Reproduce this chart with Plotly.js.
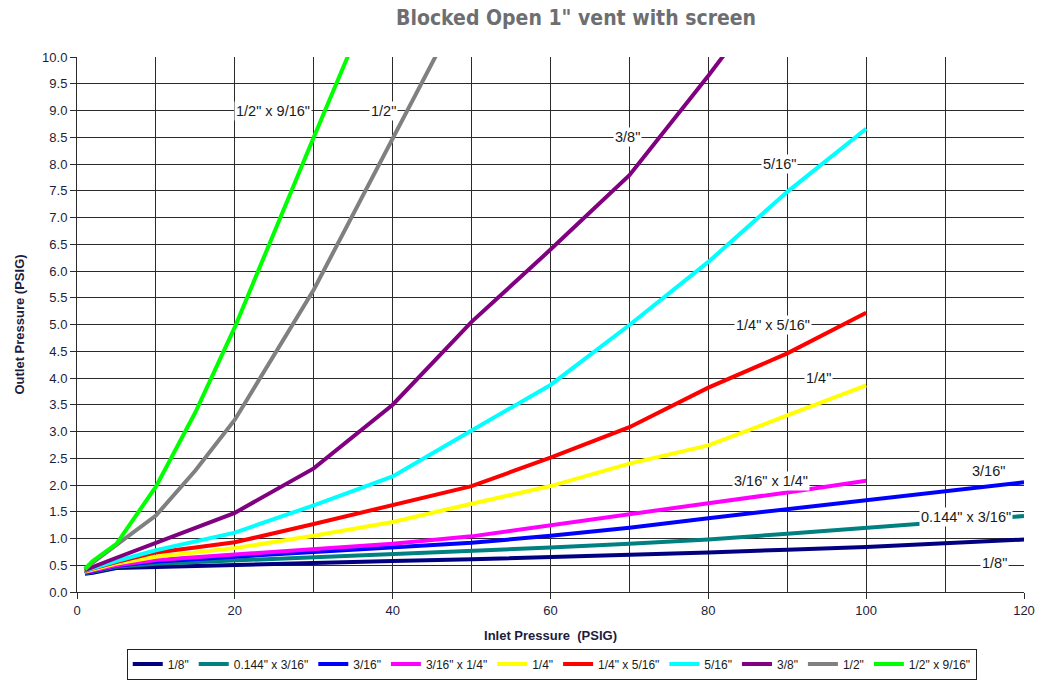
<!DOCTYPE html>
<html>
<head>
<meta charset="utf-8">
<script src="https://cdn.plot.ly/plotly-3.0.1.min.js"></script>
<style>html,body{margin:0;padding:0;background:#fff;}#chart{width:1057px;height:690px;}</style>
</head>
<body>
<div id="chart"></div>
<script>
// Inlet pressure sample points (PSIG)
const inlet120 = [1, 2, 5, 10, 15, 20, 30, 40, 50, 60, 70, 80, 90, 100, 120];
const inlet100 = [1, 2, 5, 10, 15, 20, 30, 40, 50, 60, 70, 80, 90, 100];
const inlet90  = [1, 2, 5, 10, 15, 20, 30, 40, 50, 60, 70, 80, 90];
const inlet50  = [1, 2, 5, 10, 15, 20, 30, 40, 50];
const inlet40  = [1, 2, 5, 10, 15, 20, 30, 40];

// Outlet pressure (PSIG) per orifice
const s_1_8      = [0.34, 0.36, 0.45, 0.47, 0.49, 0.51, 0.54, 0.58, 0.61, 0.65, 0.69, 0.74, 0.79, 0.84, 0.98];
const s_0144_316 = [0.35, 0.38, 0.47, 0.53, 0.56, 0.59, 0.64, 0.70, 0.77, 0.83, 0.90, 0.98, 1.09, 1.20, 1.42];
const s_3_16     = [0.36, 0.39, 0.49, 0.57, 0.61, 0.66, 0.75, 0.84, 0.92, 1.05, 1.20, 1.38, 1.55, 1.72, 2.05];
const s_316_14   = [0.37, 0.40, 0.50, 0.60, 0.65, 0.70, 0.80, 0.90, 1.04, 1.25, 1.45, 1.66, 1.86, 2.08];
const s_1_4      = [0.38, 0.42, 0.53, 0.66, 0.74, 0.82, 1.05, 1.31, 1.65, 1.98, 2.40, 2.74, 3.30, 3.86];
const s_14_516   = [0.39, 0.44, 0.56, 0.74, 0.83, 0.93, 1.27, 1.63, 1.98, 2.51, 3.08, 3.82, 4.46, 5.22];
const s_5_16     = [0.40, 0.45, 0.58, 0.78, 0.95, 1.11, 1.62, 2.16, 3.02, 3.87, 4.99, 6.17, 7.48, 8.66];
const s_3_8      = [0.41, 0.47, 0.64, 0.92, 1.20, 1.48, 2.31, 3.50, 5.05, 6.40, 7.79, 9.65, 11.6];
const s_1_2      = [0.42, 0.55, 0.88, 1.43, 2.27, 3.22, 5.65, 8.47, 11.3];
const s_12_916   = [0.43, 0.58, 0.90, 1.97, 3.36, 4.95, 8.50, 12.0];

const names  = ['1/8"', '0.144" x 3/16"', '3/16"', '3/16" x 1/4"', '1/4"', '1/4" x 5/16"', '5/16"', '3/8"', '1/2"', '1/2" x 9/16"'];
const colors = ['#000080', '#008080', '#0000ff', '#ff00ff', '#ffff00', '#ff0000', '#00ffff', '#800080', '#808080', '#00ff00'];
const xs = [inlet120, inlet120, inlet120, inlet100, inlet100, inlet100, inlet100, inlet90, inlet50, inlet40];
const ys = [s_1_8, s_0144_316, s_3_16, s_316_14, s_1_4, s_14_516, s_5_16, s_3_8, s_1_2, s_12_916];

// Inline labels
const labelText = ['1/2" x 9/16"', '1/2"', '3/8"', '5/16"', '1/4" x 5/16"', '1/4"', '3/16" x 1/4"', '3/16"', '0.144" x 3/16"', '1/8"'];
const labelX    = [24.8, 38.8, 69.8, 89.0, 88.2, 94.0, 88.0, 115.5, 112.6, 116.3];
const labelY    = [9.0, 9.0, 8.5, 8.0, 5.0, 4.0, 2.08, 2.26, 1.40, 0.54];

const traces = names.map((n, i) => ({
  x: xs[i], y: ys[i], name: n, type: 'scatter', mode: 'lines',
  line: {color: colors[i], width: 4}, cliponaxis: true
}));

const gridC = '#2a2a2a';
const tickFont = {family: 'Arial, Liberation Sans, sans-serif', size: 13, color: '#1c1c3c'};

const annotations = labelText.map((t, i) => ({
  x: labelX[i], y: labelY[i], xref: 'x', yref: 'y', text: t, showarrow: false,
  bgcolor: '#ffffff', borderpad: 1,
  font: {family: 'Arial, Liberation Sans, sans-serif', size: 14.5, color: '#1a1a1a'}
}));

const layout = {
  width: 1057, height: 690,
  paper_bgcolor: '#ffffff', plot_bgcolor: '#ffffff',
  margin: {l: 77, r: 33, t: 57, b: 98},
  title: {
    text: '<b>Blocked Open 1" vent with screen</b>',
    font: {family: 'Liberation Sans Narrow, DejaVu Sans Condensed, Arial Narrow, sans-serif', size: 21, color: '#6d6e71'},
    x: 0.545, xref: 'container', xanchor: 'center', y: 0.985, yanchor: 'top'
  },
  xaxis: {
    range: [0, 120], tickvals: [0, 20, 40, 60, 80, 100, 120],
    showgrid: true, gridcolor: gridC, gridwidth: 1,
    minor: {dtick: 10, tick0: 0, showgrid: true, gridcolor: gridC, gridwidth: 1, ticklen: 0},
    showline: true, linecolor: gridC, linewidth: 1,
    ticks: 'outside', ticklen: 6, tickcolor: gridC, zeroline: false,
    tickfont: tickFont,
    title: {text: '<b>Inlet Pressure  (PSIG)</b>', font: {family: 'Arial, Liberation Sans, sans-serif', size: 13, color: '#1c1c3c'}, standoff: 14}
  },
  yaxis: {
    range: [0, 10], dtick: 0.5, tick0: 0, tickformat: '.1f',
    showgrid: true, gridcolor: gridC, gridwidth: 1,
    showline: true, linecolor: gridC, linewidth: 1,
    ticks: 'outside', ticklen: 6, tickcolor: gridC, zeroline: false,
    tickfont: tickFont,
    title: {text: '<b>Outlet Pressure (PSIG)</b>', font: {family: 'Arial, Liberation Sans, sans-serif', size: 13, color: '#1c1c3c'}, standoff: 14}
  },
  legend: {
    orientation: 'h', xref: 'container', yref: 'container',
    x: 0.522, xanchor: 'center', y: 0.06, yanchor: 'top',
    bordercolor: '#222', borderwidth: 1, bgcolor: '#fff',
    font: {family: 'Arial, Liberation Sans, sans-serif', size: 12, color: '#1a1a1a'},
    tracegroupgap: 0, itemwidth: 30
  },
  annotations: annotations,
  showlegend: true
};

Plotly.newPlot('chart', traces, layout, {displayModeBar: false, staticPlot: true});
</script>
</body>
</html>
